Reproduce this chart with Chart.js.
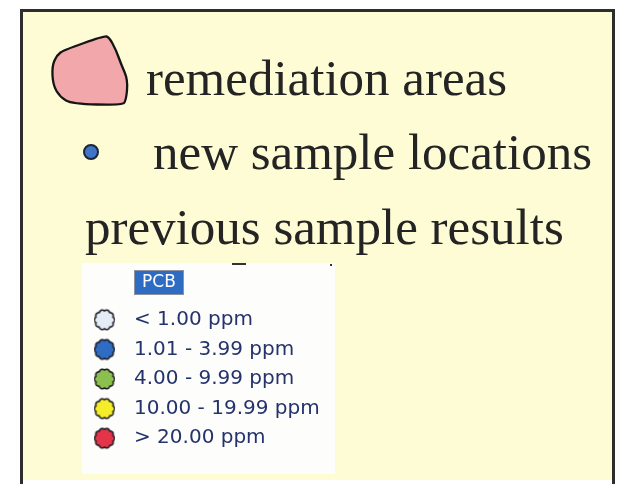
<!DOCTYPE html>
<html>
<head>
<meta charset="utf-8">
<script src="https://cdn.jsdelivr.net/npm/chart.js@4"></script>
<style>
  html, body { margin: 0; padding: 0; background: #ffffff; }
  canvas { display: block; }
</style>
</head>
<body>
<canvas id="legendChart" width="617" height="484"></canvas>
<script>
const mapLabels = ["remediation areas", "new sample locations", "previous sample results"];
const groupTitle = "PCB";
const pcbRanges = ["< 1.00 ppm", "1.01 - 3.99 ppm", "4.00 - 9.99 ppm", "10.00 - 19.99 ppm", "> 20.00 ppm"];
const pcbColors = ["#e4ecf6", "#2f6dc4", "#8cc04e", "#f5ec2a", "#e3344a"];

const canvas = document.querySelector("#legendChart");

// bumpy circle like the GIS symbol
function makeScallop(color) {
  const size = 26;
  const c = document.createElement("canvas");
  c.width = size;
  c.height = size;
  const ctx = c.getContext("2d");
  ctx.beginPath();
  for (let i = 0; i <= 360; i += 2) {
    const a = i * Math.PI / 180;
    const r = 8.9 + 1.2 * Math.abs(Math.cos(a * 5));
    const x = size / 2 + r * Math.cos(a);
    const y = size / 2 + r * Math.sin(a);
    if (i === 0) ctx.moveTo(x, y); else ctx.lineTo(x, y);
  }
  ctx.closePath();
  ctx.fillStyle = color;
  ctx.fill();
  ctx.lineWidth = 1.6;
  ctx.strokeStyle = "#1a1a22";
  ctx.stroke();
  return c;
}

function roundedShape(ctx, pts) {
  const n = pts.length;
  const mid = (a, b) => [(a[0] + b[0]) / 2, (a[1] + b[1]) / 2];
  const start = mid(pts[n - 1], pts[0]);
  ctx.beginPath();
  ctx.moveTo(start[0], start[1]);
  for (let i = 0; i < n; i++) {
    const m = mid(pts[i], pts[(i + 1) % n]);
    ctx.quadraticCurveTo(pts[i][0], pts[i][1], m[0], m[1]);
  }
  ctx.closePath();
}

const backdrop = {
  id: "backdrop",
  beforeDraw(chart) {
    const ctx = chart.ctx;
    ctx.save();
    ctx.fillStyle = "#ffffff";
    ctx.fillRect(0, 0, chart.width, chart.height);

    // yellow panel
    ctx.fillStyle = "#fefcd4";
    ctx.fillRect(21, 10, 593, 470);
    ctx.strokeStyle = "#2e2e2e";
    ctx.lineWidth = 3;
    ctx.beginPath();
    ctx.moveTo(21.5, 484);
    ctx.lineTo(21.5, 10.5);
    ctx.lineTo(613.5, 10.5);
    ctx.lineTo(613.5, 484);
    ctx.stroke();

    // remediation area swatch
    const poly = [[104, 36], [109, 37], [116, 50], [121, 64], [128, 80], [126, 101], [122, 105],
      [72, 104], [60, 97], [53, 85], [52, 66], [57, 55], [64, 50]];
    roundedShape(ctx, poly);
    ctx.fillStyle = "#f2a8ab";
    ctx.fill();
    ctx.lineWidth = 2.3;
    ctx.lineJoin = "round";
    ctx.strokeStyle = "#151515";
    ctx.stroke();

    // new sample dot
    ctx.beginPath();
    ctx.arc(91, 152, 7, 0, Math.PI * 2);
    ctx.fillStyle = "#3f74c6";
    ctx.fill();
    ctx.lineWidth = 2;
    ctx.strokeStyle = "#1b2438";
    ctx.stroke();

    ctx.font = "51px 'Liberation Serif'";
    ctx.fillStyle = "#242424";
    ctx.textBaseline = "alphabetic";
    ctx.fillText(mapLabels[0], 146, 95);
    ctx.fillText(mapLabels[1], 153, 169);
    ctx.fillText(mapLabels[2], 85, 244);

    // white legend box
    ctx.fillStyle = "#fdfdfc";
    ctx.fillRect(82, 263, 253, 211);

    // bits of cut-off text above the box
    ctx.fillStyle = "#333333";
    ctx.fillRect(232, 263, 14, 2);
    ctx.fillRect(330, 264, 2, 2);

    // PCB header
    ctx.fillStyle = "#2d6cc2";
    ctx.fillRect(135, 271, 48, 23);
    ctx.setLineDash([1, 1]);
    ctx.lineWidth = 1;
    ctx.strokeStyle = "#1c2444";
    ctx.strokeRect(134.5, 270.5, 49, 24);
    ctx.setLineDash([]);
    ctx.font = "17px 'DejaVu Sans'";
    ctx.fillStyle = "#ffffff";
    ctx.textAlign = "center";
    ctx.textBaseline = "middle";
    ctx.fillText(groupTitle, 159, 283);
    ctx.restore();
  }
};

new Chart(canvas, {
  type: "scatter",
  data: {
    datasets: [
      {
        label: groupTitle,
        data: pcbRanges.map((r) => ({ x: 0, y: r })),
        pointStyle: pcbColors.map(makeScallop),
        pointRadius: 10,
        pointHoverRadius: 10
      }
    ]
  },
  options: {
    responsive: false,
    animation: false,
    events: [],
    layout: {
      padding: { left: 94, right: 252, top: 305, bottom: 10 }
    },
    scales: {
      x: { type: "linear", min: -1, max: 1, display: false },
      y: {
        type: "category",
        labels: pcbRanges,
        position: "right",
        offset: true,
        grid: { display: false, drawTicks: false },
        border: { display: false },
        afterFit(scale) { scale.width = 250; },
        ticks: {
          padding: 19,
          color: "#25336c",
          font: { family: "DejaVu Sans", size: 20 }
        }
      }
    },
    plugins: {
      legend: { display: false },
      tooltip: { enabled: false }
    }
  },
  plugins: [backdrop]
});
</script>
</body>
</html>
